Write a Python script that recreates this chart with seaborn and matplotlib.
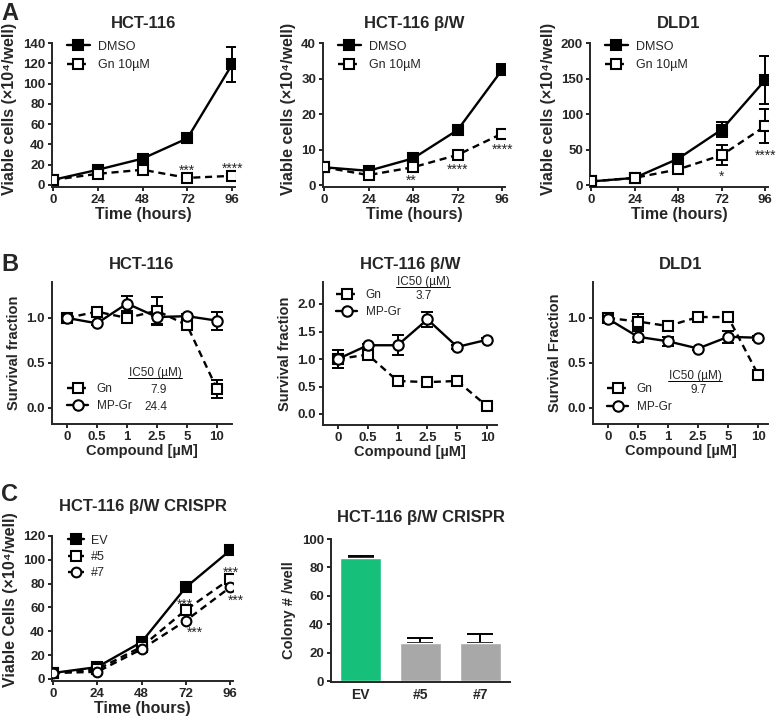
import matplotlib
matplotlib.use('Agg')
import matplotlib.pyplot as plt
import seaborn as sns
from matplotlib.lines import Line2D

sns.set_style('ticks')
plt.rcParams['font.family'] = ['Liberation Sans', 'DejaVu Sans']
plt.rcParams['font.weight'] = 'bold'
plt.rcParams['axes.linewidth'] = 1.4

# ---- data ----
hours = [0, 24, 48, 72, 96]

hct_dmso = [5, 15, 26, 46, 119]
hct_dmso_err = [1, 2, 5, 5, 17]
hct_gn = [5, 11, 15, 7, 9]
hct_gn_err = [1, 1, 3, 1, 1]

bw_dmso = [5, 4, 7.5, 15.5, 32.5]
bw_dmso_err = [0.5, 0.4, 0.6, 0.5, 1.5]
bw_gn = [5, 2.8, 5, 8.5, 14.5]
bw_gn_err = [0.5, 0.3, 0.5, 0.5, 0.5]

dld_dmso = [5, 10, 37, 78, 148]
dld_dmso_err = [1, 2, 5, 11, 34]
dld_gn = [5, 10, 22, 42, 83]
dld_gn_err = [1, 2, 4, 14, 24]

doses = ['0', '0.5', '1', '2.5', '5', '10']

b_hct_gn = [1.0, 1.07, 1.0, 1.08, 0.92, 0.21]
b_hct_gn_err = [0.04, 0.03, 0.02, 0.15, 0.03, 0.1]
b_hct_mp = [1.0, 0.94, 1.16, 1.01, 1.02, 0.97]
b_hct_mp_err = [0.03, 0.02, 0.08, 0.09, 0.02, 0.1]

b_bw_gn = [1.0, 1.08, 0.6, 0.58, 0.6, 0.14]
b_bw_gn_err = [0.17, 0.04, 0.03, 0.02, 0.03, 0.02]
b_bw_mp = [1.0, 1.25, 1.25, 1.72, 1.22, 1.35]
b_bw_mp_err = [0.17, 0.03, 0.18, 0.14, 0.03, 0.03]

b_dld_gn = [1.0, 0.96, 0.91, 1.01, 1.01, 0.37]
b_dld_gn_err = [0.02, 0.08, 0.02, 0.02, 0.02, 0.04]
b_dld_mp = [0.99, 0.79, 0.74, 0.66, 0.79, 0.78]
b_dld_mp_err = [0.02, 0.06, 0.05, 0.02, 0.07, 0.02]

ic50_hct = ['7.9', '24.4']
ic50_bw = ['3.7', '']
ic50_dld = ['9.7', '']

crispr_ev = [5, 10, 31, 77, 108]
crispr_5 = [5, 8, 27, 58, 84]
crispr_7 = [5, 6, 25, 49, 77]

clones = ['EV', '#5', '#7']
colonies = [86.5, 26.5, 26.5]
colonies_err = [1.2, 3.8, 6.5]

W, H = 778, 719
fig = plt.figure(figsize=(W / 100, H / 100), dpi=100)


def add_ax(l, t, r, b):
    return fig.add_axes([l / W, 1 - b / H, (r - l) / W, (b - t) / H])


def series(ax, x, y, err, marker, filled, dashed, label, ms=7):
    sns.lineplot(x=x, y=y, ax=ax, color='black', lw=1.7, marker=marker,
                 markersize=ms, markerfacecolor='black' if filled else 'white',
                 markeredgecolor='black', markeredgewidth=1.5,
                 linestyle=(0, (3, 2)) if dashed else '-', label=label,
                 sort=False, zorder=3)
    if err is not None:
        ax.errorbar(x, y, yerr=err, fmt='none', ecolor='black', elinewidth=1.4,
                    capsize=4.5, capthick=1.4, zorder=2)


def style(ax, title, xlabel, ylabel, pad, xfs=11.5, yfs=11.5):
    sns.despine(ax=ax)
    ax.set_title(title, fontsize=12, fontweight='bold', pad=pad)
    ax.set_xlabel(xlabel, fontsize=xfs, fontweight='bold', labelpad=1)
    ax.set_ylabel(ylabel, fontsize=yfs, fontweight='bold', labelpad=4)
    ax.tick_params(direction='out', length=3, width=1.4, pad=2, labelsize=9.5)


def legend_at(ax, left, row1, fs=9, hl=1.8, hp=0.7, ls=0.55):
    top = row1 - 0.6 * fs * 100 / 72
    ax.legend(loc='upper left', bbox_to_anchor=(left / W, 1 - top / H),
              bbox_transform=fig.transFigure, frameon=False,
              prop={'size': fs, 'weight': 'normal'},
              handlelength=hl, handletextpad=hp, labelspacing=ls,
              borderpad=0, borderaxespad=0, numpoints=1)


def stars(ax, x, y, s, dx, dy, fs=10):
    # dx, dy: glyph centre offset from point in pixels (up positive)
    ax.annotate(s, (x, y), xytext=(dx * 0.72, (dy - 8) * 0.72),
                textcoords='offset points', ha='center', va='baseline',
                fontsize=fs, fontweight='normal', zorder=5)


def header(xc, yc, values_x, rows, vals, fs=8.5):
    fig.text(xc / W, 1 - yc / H, 'IC50 (µM)', ha='center', va='center',
             fontsize=fs, fontweight='normal')
    fig.add_artist(Line2D([(xc - 27) / W, (xc + 27) / W], [1 - (yc + 5) / H] * 2,
                          transform=fig.transFigure, color='black', lw=0.7))
    for r, v in zip(rows, vals):
        fig.text(values_x / W, 1 - r / H, v, ha='right', va='center',
                 fontsize=fs, fontweight='normal')


ylab_a = 'Viable cells (×10⁴/well)'

# ---- row A ----
a_specs = [
    ((52, 43, 235, 187), 'HCT-116', hct_dmso, hct_dmso_err, hct_gn, hct_gn_err, (-2, 140), range(0, 141, 20), 67),
    ((323, 43, 505, 187), 'HCT-116 β/W', bw_dmso, bw_dmso_err, bw_gn, bw_gn_err, (-0.56, 40), range(0, 41, 10), 338),
    ((590, 43, 768, 187), 'DLD1', dld_dmso, dld_dmso_err, dld_gn, dld_gn_err, (-2.8, 200), range(0, 201, 50), 605),
]
axA = []
for box, title, dm, dme, gn, gne, ylim, yt, lx in a_specs:
    ax = add_ax(*box)
    series(ax, hours, dm, dme, 's', True, False, 'DMSO')
    series(ax, hours, gn, gne, 's', False, True, 'Gn 10µM')
    ax.set_xlim(-0.5, 97.5)
    ax.set_ylim(*ylim)
    ax.set_xticks(hours)
    ax.set_yticks(list(yt))
    style(ax, title, 'Time (hours)', ylab_a, 11)
    legend_at(ax, lx, 48)
    axA.append(ax)
axA[0].yaxis.set_label_coords(-0.19, 0.54)
axA[1].yaxis.set_label_coords(-0.15, 0.54)
axA[2].yaxis.set_label_coords(-0.19, 0.54)

stars(axA[0], 72, hct_gn[3], '***', 0, 11)
stars(axA[0], 96, hct_gn[4], '****', 0, 11)
stars(axA[1], 48, bw_gn[2], '**', -2, -10)
stars(axA[1], 72, bw_gn[3], '****', 0, -11)
stars(axA[1], 96, bw_gn[4], '****', 0, -12)
stars(axA[2], 72, dld_gn[3], '*', 0, -18)
stars(axA[2], 96, dld_gn[4], '****', 0, -26)

# ---- row B ----
b_specs = [
    ((52, 282, 232, 424), 'HCT-116', b_hct_gn, b_hct_gn_err, b_hct_mp, b_hct_mp_err,
     (-0.18, 1.4), [0, 0.5, 1.0], 5.5, 'Survival fraction'),
    ((323, 282, 497, 425), 'HCT-116 β/W', b_bw_gn, b_bw_gn_err, b_bw_mp, b_bw_mp_err,
     (-0.2, 2.4), [0, 0.5, 1.0, 1.5, 2.0], 5.33, 'Survival fraction'),
    ((593, 282, 768, 424), 'DLD1', b_dld_gn, b_dld_gn_err, b_dld_mp, b_dld_mp_err,
     (-0.18, 1.4), [0, 0.5, 1.0], 5.33, 'Survival Fraction'),
]
axB = []
for box, title, gn, gne, mp, mpe, ylim, yt, xr, ylab in b_specs:
    ax = add_ax(*box)
    series(ax, doses, gn, gne, 's', False, True, 'Gn', ms=7.5)
    series(ax, doses, mp, mpe, 'o', False, False, 'MP-Gr', ms=7.5)
    ax.set_xlim(-0.5, xr)
    ax.set_ylim(*ylim)
    ax.set_yticks(yt)
    ax.set_yticklabels([f'{v:.1f}' for v in yt])
    style(ax, title, 'Compound [µM]', ylab, 9, xfs=10.5, yfs=10.5)
    axB.append(ax)

legend_at(axB[0], 67, 390, fs=8.5, ls=0.45)
header(155, 373, 167, [390, 407], ic50_hct)
legend_at(axB[1], 336, 296, fs=8.5, ls=0.45)
header(423, 282, 432, [296, 313], ic50_bw)
legend_at(axB[2], 607, 390, fs=8.5, ls=0.5)
header(695, 376, 707, [390, 408], ic50_dld)

# ---- row C ----
ax = add_ax(52, 536, 233, 681)
series(ax, hours, crispr_ev, None, 's', True, False, 'EV')
series(ax, hours, crispr_5, None, 's', False, True, '#5')
series(ax, hours, crispr_7, None, 'o', False, True, '#7')
ax.set_xlim(-0.5, 97.5)
ax.set_ylim(-1.7, 120)
ax.set_xticks(hours)
ax.set_yticks(range(0, 121, 20))
style(ax, 'HCT-116 β/W CRISPR', 'Time (hours)', 'Viable Cells (×10⁴/well)', 18)
ax.yaxis.set_label_coords(-0.19, 0.56)
legend_at(ax, 68, 542, fs=9, hl=1.3, hp=0.5, ls=0.35)
stars(ax, 72, crispr_5[3], '***', -1, 9)
stars(ax, 72, crispr_7[3], '***', 9, -8)
stars(ax, 96, crispr_5[4], '***', 1, 10)
stars(ax, 96, crispr_7[4], '***', 6, -10)

ax = add_ax(331, 539, 510, 682)
sns.barplot(x=clones, y=colonies, hue=clones, palette=['#16c07a', '#a8a8a8', '#a8a8a8'],
            width=0.69, legend=False, ax=ax, saturation=1, zorder=2)
ax.errorbar(clones, colonies, yerr=[[0, 0, 0], colonies_err], fmt='none', ecolor='black',
            elinewidth=1.4, capsize=9.4, capthick=1.4, zorder=1)
ax.set_xlim(-0.5, 2.5)
ax.set_ylim(-0.7, 100)
ax.set_yticks(range(0, 101, 20))
style(ax, 'HCT-116 β/W CRISPR', '', 'Colony # /well', 12, yfs=10.5)
ax.tick_params(axis='x', length=0, pad=4, labelsize=10)

# panel letters
for letter, top in [('A', 2), ('B', 253), ('C', 483)]:
    fig.text(1 / W, 1 - top / H, letter, ha='left', va='top', fontsize=17, fontweight='bold')

fig.savefig('out.png', dpi=100)
